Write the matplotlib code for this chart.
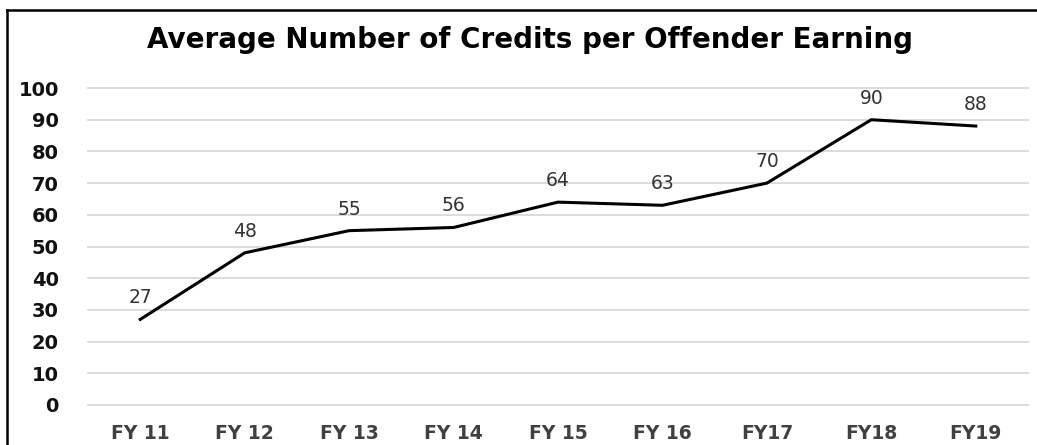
import matplotlib.pyplot as plt
from matplotlib.lines import Line2D

# average credits per offender earning, by fiscal year
years = ['FY 11', 'FY 12', 'FY 13', 'FY 14', 'FY 15', 'FY 16', 'FY17', 'FY18', 'FY19']
credits = [27, 48, 55, 56, 64, 63, 70, 90, 88]
yticks = [0, 10, 20, 30, 40, 50, 60, 70, 80, 90, 100]

fig = plt.figure(figsize=(10.37, 4.45), dpi=100)
ax = fig.add_axes([0.0849, 0.0899, 0.9064, 0.7123])

x = list(range(len(years)))
ax.plot(x, credits, color='black', linewidth=2.2, solid_joinstyle='miter', zorder=3)
for i, v in zip(x, credits):
    ax.annotate(str(v), (i, v), xytext=(0, 15.5), textcoords='offset points',
                ha='center', va='center', fontsize=13.5, color='#333333')

ax.set_xlim(-0.5, len(years) - 0.5)
ax.set_ylim(0, 100)
ax.set_xticks(x)
ax.set_xticklabels(years, fontsize=13.5, fontweight='bold', color='#404040')
ax.set_yticks(yticks)
ax.set_yticklabels([str(t) for t in yticks], fontsize=14, fontweight='bold', color='#111111')
ax.tick_params(axis='both', length=0)
ax.tick_params(axis='x', pad=14)
ax.tick_params(axis='y', pad=21)
ax.grid(axis='y', color='#d9d9d9', linewidth=1.3)
for gl in ax.get_ygridlines():
    gl.set_clip_on(False)
ax.set_axisbelow(True)
for s in ax.spines.values():
    s.set_visible(False)

fig.text(0.511, 0.910, 'Average Number of Credits per Offender Earning',
         ha='center', va='center', fontsize=20, fontweight='bold')

# frame around the chart (left and top edges)
fig.add_artist(Line2D([7 / 1037, 7 / 1037], [0, 1 - 10 / 445], color='black', linewidth=1.8))
fig.add_artist(Line2D([7 / 1037, 1], [1 - 10 / 445, 1 - 10 / 445], color='black', linewidth=1.8))

fig.savefig('out.png', dpi=100)
